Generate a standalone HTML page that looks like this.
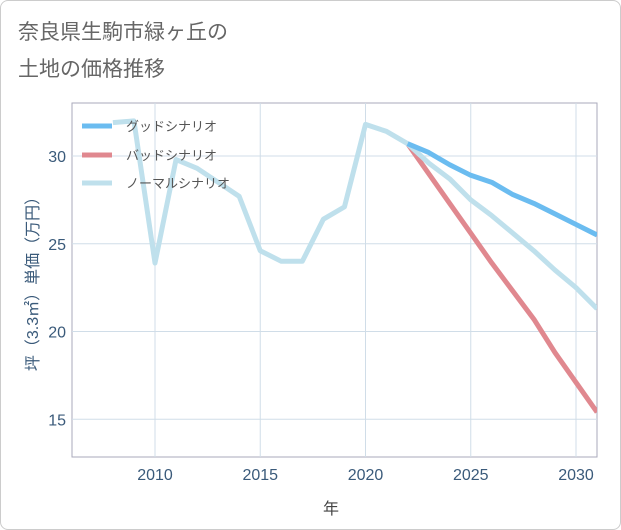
<!DOCTYPE html>
<html><head><meta charset="utf-8"><style>
body{margin:0;background:#fff;font-family:"Liberation Sans","Noto Sans CJK JP",sans-serif;}
.card{position:absolute;left:0;top:0;width:619px;height:528px;border:1px solid #ccc;border-radius:8px;background:#fff;}
</style></head><body>
<div class="card"></div>
<svg width="621" height="530" style="position:absolute;left:0;top:0" id="svg">
<text x="18" y="39" font-size="21" fill="#666">奈良県生駒市緑ヶ丘の</text>
<text x="18" y="76" font-size="21" fill="#666">土地の価格推移</text>
<g id="grid"></g><g id="lines"></g><g id="legend"></g>
<text x="331" y="514" font-size="16" fill="#444" text-anchor="middle">年</text>
<text transform="translate(38,280) rotate(-90)" font-size="16" fill="#3a5a7a" text-anchor="middle">坪（3.3㎡）単価（万円）</text>
</svg>
<script>
const years=[2008,2009,2010,2011,2012,2013,2014,2015,2016,2017,2018,2019,2020,2021,2022,2023,2024,2025,2026,2027,2028,2029,2030,2031];
const normal=[31.9,32.0,23.9,29.8,29.3,28.5,27.7,24.6,24.0,24.0,26.4,27.1,31.8,31.4,30.7,29.6,28.7,27.5,26.6,25.6,24.6,23.5,22.5,21.3];
const goodYears=[2022,2023,2024,2025,2026,2027,2028,2029,2030,2031];
const good=[30.7,30.2,29.5,28.9,28.5,27.8,27.3,26.7,26.1,25.5];
const bad=[30.7,29.0,27.3,25.6,23.9,22.3,20.7,18.8,17.1,15.4];
const xTicks=[2010,2015,2020,2025,2030];
const yTicks=[15,20,25,30];
const L=72,R=597,T=103,B=457;
const x=v=>155+(v-2010)*21.05;
const y=v=>156-(v-30)*17.55;
const ns='http://www.w3.org/2000/svg';
function mk(tag,attrs,parent){const e=document.createElementNS(ns,tag);for(const k in attrs)e.setAttribute(k,attrs[k]);document.getElementById(parent).appendChild(e);return e;}
const fr=mk('rect',{x:L,y:T,width:R-L,height:B-T,fill:'none',stroke:'#aab',"stroke-width":1},'grid');


xTicks.forEach(t=>{
 const l=mk('line',{x1:x(t),x2:x(t),y1:T,y2:B,stroke:'#d0dde8'},'grid');
 
 
 const tx=mk('text',{x:x(t),y:480,'font-size':16,fill:'#3a5a7a','text-anchor':'middle'},'grid');tx.textContent=t;
 
 
});
yTicks.forEach(t=>{
 const l=mk('line',{x1:L,x2:R,y1:y(t),y2:y(t),stroke:'#d0dde8'},'grid');
 
 
 const tx=mk('text',{x:66,y:y(t)+6,'font-size':16,fill:'#3a5a7a','text-anchor':'end'},'grid');tx.textContent=t;
 
 
});
function line(xs,vs,color,name){
 const p=mk('polyline',{points:xs.map((yr,i)=>x(yr)+','+y(vs[i])).join(' '),fill:'none',stroke:color,'stroke-width':5,'stroke-linejoin':'round'},'lines');
 
 
}
document.getElementById('lines').setAttribute('clip-path','url(#c)');
const d=mk('clipPath',{id:'c'},'grid');
const cr=document.createElementNS(ns,'rect');cr.setAttribute('x',L);cr.setAttribute('y',T);cr.setAttribute('width',R-L);cr.setAttribute('height',B-T);d.appendChild(cr);
line(goodYears,bad,'#e0888f','bad-scenario-line');
line(years,normal,'#bfe0ec','normal-scenario-line');
line(goodYears,good,'#6bbcf0','good-scenario-line');
[['グッドシナリオ','#6bbcf0',126],['バッドシナリオ','#e0888f',155],['ノーマルシナリオ','#bfe0ec',183]].forEach(([n,c,yy])=>{
 const l=mk('line',{x1:82,x2:112,y1:yy,y2:yy,stroke:c,'stroke-width':5},'legend');
 
 
 const t=mk('text',{x:126,y:yy+5,'font-size':13,fill:'#555'},'legend');t.textContent=n;
 
 
});
</script>
</body></html>
